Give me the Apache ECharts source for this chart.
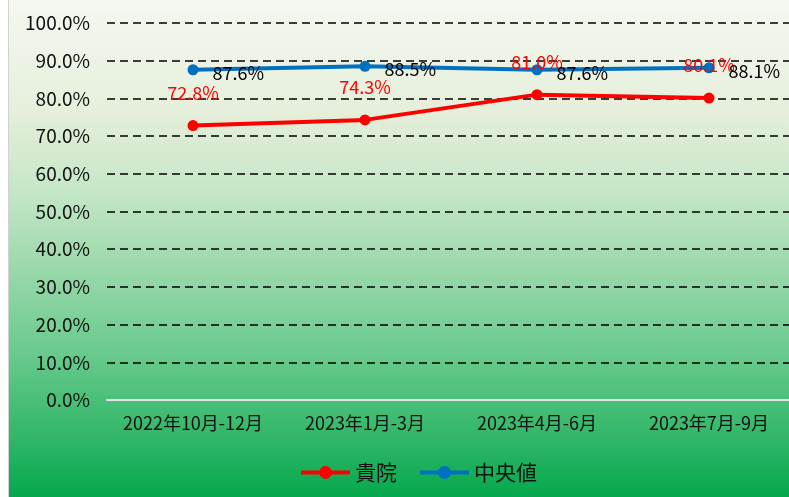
<!DOCTYPE html>
<html>
<head>
<meta charset="utf-8">
<script src="https://cdn.jsdelivr.net/npm/echarts@6/dist/echarts.min.js"></script>
<style>
  html, body { margin: 0; padding: 0; background: #fff; overflow: hidden; }
  #edge { position: absolute; left: 8px; top: 0; width: 1px; height: 497px; background: #d2d2d2; }
  #main { position: absolute; left: 9px; top: 0; width: 800px; height: 497px; }
</style>
</head>
<body>
<div id="edge"></div>
<div id="main"></div>
<script>
  // 期間
  var categories = ['2022年10月-12月', '2023年1月-3月', '2023年4月-6月', '2023年7月-9月'];
  // 貴院
  var kiinData = [72.8, 74.3, 81.0, 80.1];
  // 中央値
  var medianData = [87.6, 88.5, 87.6, 88.1];

  var font = '"Noto Sans CJK JP", "Noto Sans", sans-serif';

  var chart = echarts.init(document.getElementById('main'));
  var option = {
    backgroundColor: {
      type: 'linear', x: 0, y: 0, x2: 0, y2: 1,
      colorStops: [
        { offset: 0, color: '#f4f8f1' },
        { offset: 0.22, color: '#e6efdb' },
        { offset: 0.38, color: '#c6e7c8' },
        { offset: 0.55, color: '#98d8a9' },
        { offset: 0.72, color: '#66c98b' },
        { offset: 0.87, color: '#35b86a' },
        { offset: 1, color: '#05a84d' }
      ]
    },
    animation: false,
    textStyle: { fontFamily: font },
    grid: {
      left: 98,
      top: 23,
      width: 688,
      bottom: 97,
      containLabel: false
    },
    legend: {
      bottom: 9,
      left: 285,
      itemWidth: 49,
      itemHeight: 16,
      itemGap: 21,
      lineStyle: { width: 4 },
      textStyle: { fontSize: 21, color: '#111', fontFamily: font },
      data: ['貴院', '中央値']
    },
    xAxis: {
      type: 'category',
      data: categories,
      axisLine: { lineStyle: { color: '#e6e6e6', width: 2 } },
      axisTick: { show: false },
      axisLabel: { interval: 0, fontSize: 18, color: '#111', margin: 14, fontFamily: font }
    },
    yAxis: {
      type: 'value',
      min: 0,
      max: 100,
      interval: 10,
      axisLine: { show: false },
      axisTick: { show: false },
      axisLabel: {
        fontSize: 19,
        color: '#111',
        margin: 17,
        fontFamily: font,
        formatter: function (v) { return v.toFixed(1) + '%'; }
      },
      splitLine: {
        lineStyle: { color: '#000', type: [8, 5], width: 1.5 }
      }
    },
    series: [
      {
        name: '貴院',
        type: 'line',
        data: kiinData,
        symbol: 'circle',
        symbolSize: 11,
        lineStyle: { color: '#ff0000', width: 4 },
        itemStyle: { color: '#ff0000' },
        label: {
          show: true,
          position: 'top',
          distance: 18,
          fontSize: 18,
          color: '#ff0000',
          fontFamily: font,
          formatter: function (p) { return p.value.toFixed(1) + '%'; }
        }
      },
      {
        name: '中央値',
        type: 'line',
        data: medianData,
        symbol: 'circle',
        symbolSize: 11,
        lineStyle: { color: '#0070c0', width: 4 },
        itemStyle: { color: '#0070c0' },
        label: {
          show: true,
          position: 'right',
          distance: 14,
          offset: [0, 3],
          fontSize: 18,
          color: '#000',
          fontFamily: font,
          formatter: function (p) { return p.value.toFixed(1) + '%'; }
        }
      }
    ]
  };
  chart.setOption(option);
</script>
</body>
</html>
